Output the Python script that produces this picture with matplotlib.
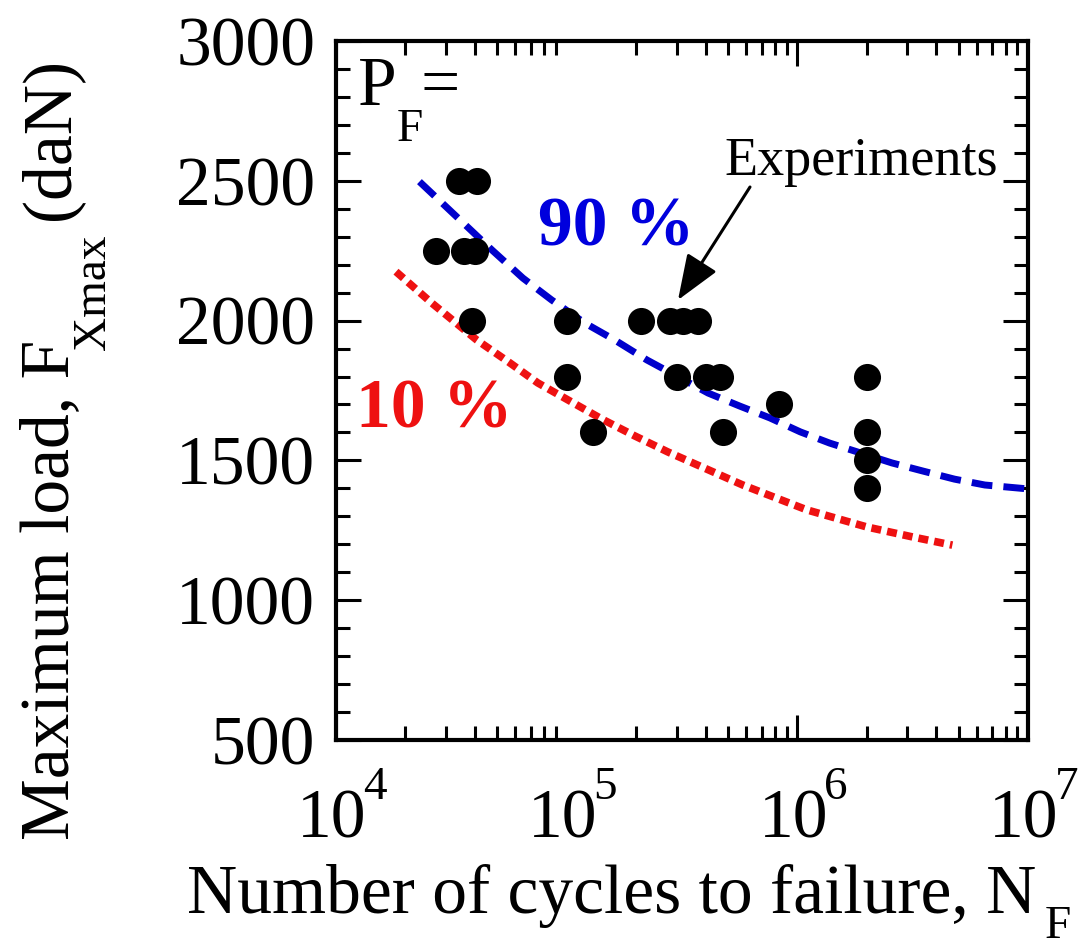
import numpy as np
import matplotlib.pyplot as plt
from matplotlib.ticker import MultipleLocator, LogLocator, NullFormatter

plt.rcParams['font.family'] = 'Liberation Serif'

# experimental points (cycles to failure, max load in daN)
cycles = [3.4e4, 4.1e4, 2.7e4, 3.6e4, 4.0e4, 3.9e4, 1.0e5, 1.0e5, 1.3e5,
          2.1e5, 2.8e5, 3.2e5, 3.7e5, 3.0e5, 4.0e5, 4.6e5, 4.75e5, 8.3e5,
          2.0e6, 2.0e6, 2.0e6, 2.0e6]
loads = [2500, 2500, 2250, 2250, 2250, 2000, 2000, 1800, 1600,
         2000, 2000, 2000, 2000, 1800, 1800, 1800, 1600, 1700,
         1800, 1600, 1500, 1400]

# P_F = 90 % curve
p90_n = [2.3e4, 3.45e4, 4.75e4, 6.46e4, 8.6e4, 1.2e5, 1.62e5, 2.23e5, 4.1e5,
         5.6e5, 7.6e5, 1.03e6, 1.38e6, 2.57e6, 3.5e6, 4.8e6, 6.5e6, 1e7]
p90_f = [2497, 2360, 2252, 2152, 2074, 1991, 1930, 1859, 1741,
         1695, 1652, 1602, 1562, 1491, 1462, 1433, 1412, 1398]

# P_F = 10 % curve
p10_n = [1.82e4, 2.6e4, 4.07e4, 5.6e4, 7.5e4, 1.05e5, 1.42e5, 1.98e5, 2.75e5,
         5.8e5, 1.1e6, 2.0e6, 3.17e6, 4.7e6]
p10_f = [2175, 2063, 1931, 1852, 1777, 1709, 1648, 1587, 1530,
         1412, 1323, 1262, 1226, 1197]

decades = [1e4, 1e5, 1e6, 1e7]
exponents = ['4', '5', '6', '7']

W, H = 1083, 950
L, R, T, B = 336, 1028, 41, 740
PT = 0.72  # points per pixel at dpi 100

fig = plt.figure(figsize=(W / 100, H / 100), dpi=100)
ax = fig.add_axes([L / W, 1 - B / H, (R - L) / W, (B - T) / H])


def ax_x(px):
    return (px - L) / (R - L)


def ax_y(py):
    return (B - py) / (B - T)


ax.plot(p90_n, p90_f, color='#0000cc', lw=5, ls=(0, (3, 1.6)),
        dash_capstyle='butt', zorder=2)
ax.plot(p10_n, p10_f, color='#ee1111', lw=5.5, ls=(0, (1.3, 0.8)),
        dash_capstyle='butt', zorder=2)
ax.plot(cycles, loads, 'o', color='black', ms=19.5, mec='none', zorder=3)

ax.set_xscale('log')
ax.set_xlim(1e4, 1e7)
ax.set_ylim(500, 3000)
ax.yaxis.set_major_locator(MultipleLocator(500))
ax.yaxis.set_minor_locator(MultipleLocator(100))
ax.xaxis.set_minor_locator(LogLocator(base=10, subs=np.arange(2, 10), numticks=20))
ax.xaxis.set_minor_formatter(NullFormatter())
ax.tick_params(which='both', direction='in', top=True, right=True, width=2.2,
               labelsize=50)
ax.tick_params(which='major', length=18)
ax.tick_params(which='minor', length=10)
ax.tick_params(axis='y', pad=15)
ax.tick_params(axis='x', labelbottom=False)
for s in ax.spines.values():
    s.set_linewidth(3)

# x tick labels: "10" centred on the tick, exponent hanging to the right
for d, e in zip(decades, exponents):
    ax.annotate('10', xy=(d, 0), xycoords=('data', 'axes fraction'),
                xytext=(-4 * PT, -98 * PT), textcoords='offset points',
                ha='center', va='baseline', fontsize=50, annotation_clip=False)
    ax.annotate(e, xy=(d, 0), xycoords=('data', 'axes fraction'),
                xytext=(27 * PT, -59 * PT), textcoords='offset points',
                ha='left', va='baseline', fontsize=34, annotation_clip=False)

# axis labels
ax.set_xlabel('Number of cycles to failure, N', fontsize=50, ha='left', va='baseline')
ax.xaxis.set_label_coords(ax_x(187), ax_y(913))
ax.text(ax_x(1045), ax_y(938), 'F', transform=ax.transAxes, fontsize=34,
        ha='left', va='baseline', clip_on=False)

ax.set_ylabel('Maximum load, F', fontsize=50, rotation=90, ha='left',
              va='baseline', rotation_mode='anchor')
ax.yaxis.set_label_coords(ax_x(68), ax_y(840))
ax.text(ax_x(105), ax_y(350), 'Xmax', transform=ax.transAxes, fontsize=34,
        rotation=90, rotation_mode='anchor', ha='left', va='baseline', clip_on=False)
ax.text(ax_x(68), ax_y(220), '(daN)', transform=ax.transAxes, fontsize=50,
        rotation=90, rotation_mode='anchor', ha='left', va='baseline', clip_on=False)

# annotations inside the plot
ax.text(ax_x(358), ax_y(105), 'P', transform=ax.transAxes, fontsize=50,
        ha='left', va='baseline')
ax.text(ax_x(397), ax_y(141), 'F', transform=ax.transAxes, fontsize=34,
        ha='left', va='baseline')
ax.text(ax_x(420), ax_y(105), '=', transform=ax.transAxes, fontsize=50,
        ha='left', va='baseline')

ax.text(ax_x(538), ax_y(246), '90 %', transform=ax.transAxes, fontsize=50,
        fontweight='bold', color='#0000dd', ha='left', va='baseline')
ax.text(ax_x(356), ax_y(428), '10 %', transform=ax.transAxes, fontsize=50,
        fontweight='bold', color='#ee1111', ha='left', va='baseline')

ax.text(ax_x(724), ax_y(175), 'Experiments', transform=ax.transAxes, fontsize=39,
        ha='left', va='baseline')
ax.annotate('', xy=(ax_x(678), ax_y(300)), xycoords='axes fraction',
            xytext=(ax_x(750), ax_y(187)), textcoords='axes fraction',
            arrowprops=dict(arrowstyle='-|>,head_length=0.7,head_width=0.27',
                            color='black', lw=2.2, mutation_scale=40,
                            shrinkA=0, shrinkB=0))

plt.savefig('out.png', dpi=100)
